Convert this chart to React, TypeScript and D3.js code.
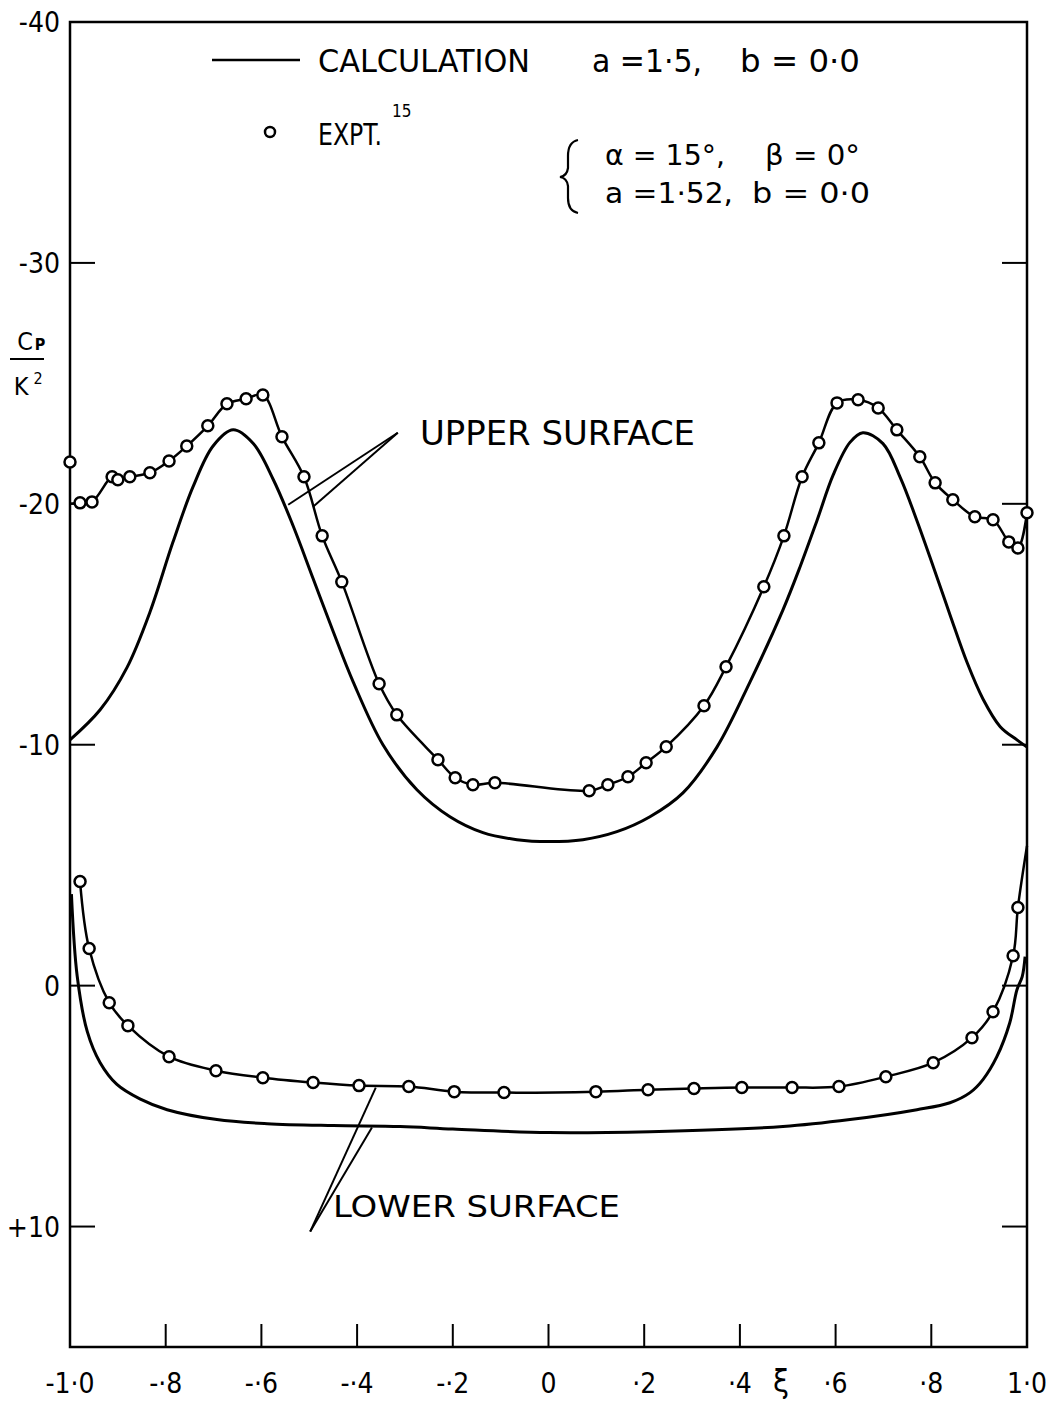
import React from "react";
import * as d3 from "d3";

// ---- data ----
const yTicks = [-40, -30, -20, -10, 0, 10];
const yTickLabels = ["-40", "-30", "-20", "-10", "0", "+10"];
const xTicks = [-1, -0.8, -0.6, -0.4, -0.2, 0, 0.2, 0.4, 0.6, 0.8, 1];
const xTickLabels = ["-1·0", "-·8", "-·6", "-·4", "-·2", "0", "·2", "·4", "·6", "·8", "1·0"];

// calculation, upper surface
const calcUpperXi = [-1.0, -0.937, -0.881, -0.833, -0.785, -0.743, -0.701, -0.659, -0.617, -0.575, -0.534, -0.492, -0.45, -0.408, -0.346, -0.275, -0.206, -0.137, -0.066, 0.0, 0.072, 0.143, 0.212, 0.281, 0.352, 0.421, 0.49, 0.526, 0.561, 0.595, 0.63, 0.657, 0.699, 0.735, 0.77, 0.804, 0.839, 0.875, 0.908, 0.944, 0.979, 1.0];
const calcUpperCp = [-10.2, -11.45, -13.2, -15.5, -18.4, -20.7, -22.4, -23.07, -22.5, -21.0, -19.1, -16.9, -14.7, -12.6, -10.0, -8.13, -7.01, -6.35, -6.06, -5.98, -6.06, -6.39, -7.01, -8.0, -9.9, -12.6, -15.6, -17.4, -19.3, -21.2, -22.55, -22.95, -22.5, -21.1, -19.3, -17.4, -15.4, -13.4, -11.9, -10.75, -10.2, -9.9];

// calculation, lower surface
const calcLowerXi = [-0.997, -0.985, -0.964, -0.937, -0.902, -0.854, -0.797, -0.693, -0.588, -0.45, -0.31, -0.2, 0.0, 0.212, 0.49, 0.63, 0.77, 0.839, 0.881, 0.908, 0.937, 0.964, 0.979, 0.99, 0.996];
const calcLowerCp = [-3.8, -0.4, 1.9, 3.2, 4.1, 4.7, 5.15, 5.56, 5.73, 5.81, 5.85, 5.95, 6.1, 6.06, 5.85, 5.56, 5.15, 4.86, 4.44, 3.9, 2.95, 1.54, 0.17, -0.37, -1.2];

// experiment, upper surface
const exptUpperXi = [-1.0, -0.979, -0.954, -0.912, -0.9, -0.875, -0.833, -0.793, -0.756, -0.712, -0.672, -0.632, -0.597, -0.557, -0.511, -0.473, -0.432, -0.354, -0.317, -0.231, -0.195, -0.158, -0.112, 0.085, 0.124, 0.166, 0.204, 0.246, 0.325, 0.371, 0.45, 0.492, 0.53, 0.565, 0.603, 0.647, 0.689, 0.728, 0.776, 0.808, 0.845, 0.891, 0.929, 0.962, 0.981, 1.0];
const exptUpperCp = [-21.74, -20.04, -20.08, -21.12, -21.0, -21.12, -21.29, -21.78, -22.4, -23.24, -24.15, -24.36, -24.52, -22.78, -21.12, -18.67, -16.76, -12.53, -11.24, -9.38, -8.63, -8.34, -8.42, -8.09, -8.34, -8.67, -9.25, -9.92, -11.62, -13.24, -16.56, -18.67, -21.12, -22.53, -24.19, -24.32, -23.98, -23.07, -21.95, -20.87, -20.17, -19.46, -19.34, -18.42, -18.17, -19.63];
// faired line through the upper experiment (starts on the axis at -20)
const exptUpperLineStart = { xi: -1.0, cp: -20.0 };

// experiment, lower surface
const exptLowerXi = [-0.979, -0.96, -0.918, -0.879, -0.793, -0.695, -0.597, -0.492, -0.396, -0.292, -0.197, -0.093, 0.099, 0.208, 0.304, 0.404, 0.509, 0.607, 0.705, 0.804, 0.885, 0.929, 0.971, 0.981];
const exptLowerCp = [-4.32, -1.54, 0.71, 1.66, 2.95, 3.53, 3.82, 4.02, 4.15, 4.19, 4.4, 4.44, 4.4, 4.32, 4.27, 4.23, 4.23, 4.19, 3.78, 3.2, 2.16, 1.08, -1.24, -3.24];
// faired line continues to the trailing edge
const exptLowerLineEnd = { xi: 1.0, cp: -5.8 };

// leader lines (data coordinates)
const upperLeader = [
  { from: [-0.315, -22.95], to: [-0.544, -19.96] },
  { from: [-0.315, -22.95], to: [-0.492, -19.88] },
];
const lowerLeader = [
  { from: [-0.498, 10.21], to: [-0.361, 4.23] },
  { from: [-0.498, 10.21], to: [-0.369, 5.89] },
];

const FONT = "'DejaVu Sans Condensed', 'Liberation Sans Narrow', 'Arial Narrow', sans-serif";

export default function App() {
  const W = 1056;
  const H = 1408;
  const L = 70, R = 1027, T = 22, B = 1347;
  const x = d3.scaleLinear().domain([-1, 1]).range([L, R]);
  const y = d3.scaleLinear().domain([-40, 15]).range([T, B]);

  const zip = (xs: number[], ys: number[]) => xs.map((v, i) => [v, ys[i]] as [number, number]);

  const cr = d3
    .line<[number, number]>()
    .x((d) => x(d[0]))
    .y((d) => y(d[1]))
    .curve(d3.curveCatmullRom.alpha(0.5));

  const calcUpper = zip(calcUpperXi, calcUpperCp);
  const calcLower = zip(calcLowerXi, calcLowerCp);
  const exptUpper = zip(exptUpperXi, exptUpperCp);
  const exptLower = zip(exptLowerXi, exptLowerCp);

  const exptUpperLine: [number, number][] = [
    [exptUpperLineStart.xi, exptUpperLineStart.cp],
    ...exptUpper.slice(1),
  ];
  const exptLowerLine: [number, number][] = [
    ...exptLower,
    [exptLowerLineEnd.xi, exptLowerLineEnd.cp],
  ];

  const tickLen = 25;

  return (
    <svg width={W} height={H} viewBox={`0 0 ${W} ${H}`} style={{ display: "block", background: "#fff", margin: "-8px" }}>
      <rect x={0} y={0} width={W} height={H} fill="#fff" />
      {/* frame */}
      <rect x={L} y={T} width={R - L} height={B - T} fill="none" stroke="#000" strokeWidth={2.5} />

      {/* y ticks and labels */}
      {yTicks.map((t, i) => (
        <g key={"y" + t}>
          {t !== -40 && (
            <>
              <line x1={L} x2={L + tickLen} y1={y(t)} y2={y(t)} stroke="#000" strokeWidth={2} />
              <line x1={R - tickLen} x2={R} y1={y(t)} y2={y(t)} stroke="#000" strokeWidth={2} />
            </>
          )}
          <text x={60} y={y(t) + 10} textAnchor="end" fontFamily={FONT} fontSize={28} fill="#000">
            {yTickLabels[i]}
          </text>
        </g>
      ))}

      {/* x ticks and labels */}
      {xTicks.map((t, i) => (
        <g key={"x" + t}>
          {i > 0 && i < xTicks.length - 1 && (
            <line x1={x(t)} x2={x(t)} y1={B} y2={B - 23} stroke="#000" strokeWidth={2} />
          )}
          <text x={x(t)} y={1393} textAnchor="middle" fontFamily={FONT} fontSize={28} fill="#000">
            {xTickLabels[i]}
          </text>
        </g>
      ))}
      <text x={781} y={1392} textAnchor="middle" fontFamily={FONT} fontSize={32} fill="#000">ξ</text>

      {/* y axis title */}
      <text x={25} y={350} textAnchor="middle" fontFamily={FONT} fontSize={25} fill="#000">C</text>
      <text x={40} y={350} textAnchor="middle" fontFamily={FONT} fontSize={16} fontWeight="bold" fill="#000">P</text>
      <line x1={10} x2={44} y1={359} y2={359} stroke="#000" strokeWidth={2} />
      <text x={21} y={395} textAnchor="middle" fontFamily={FONT} fontSize={25} fill="#000">K</text>
      <text x={38} y={384} textAnchor="middle" fontFamily={FONT} fontSize={16} fill="#000">2</text>

      {/* curves */}
      <path d={cr(calcUpper) || ""} fill="none" stroke="#000" strokeWidth={3} />
      <path d={cr(calcLower) || ""} fill="none" stroke="#000" strokeWidth={3} />
      <path d={cr(exptUpperLine) || ""} fill="none" stroke="#000" strokeWidth={2.5} />
      <path d={cr(exptLowerLine) || ""} fill="none" stroke="#000" strokeWidth={2.5} />

      {exptUpper.map((d, i) => (
        <circle key={"eu" + i} cx={x(d[0])} cy={y(d[1])} r={5.5} fill="#fff" stroke="#000" strokeWidth={2.5} />
      ))}
      {exptLower.map((d, i) => (
        <circle key={"el" + i} cx={x(d[0])} cy={y(d[1])} r={5.5} fill="#fff" stroke="#000" strokeWidth={2.5} />
      ))}

      {/* leaders */}
      {[...upperLeader, ...lowerLeader].map((l, i) => (
        <line key={"ld" + i} x1={x(l.from[0])} y1={y(l.from[1])} x2={x(l.to[0])} y2={y(l.to[1])} stroke="#000" strokeWidth={2} />
      ))}
      <text x={420} y={445} fontFamily={FONT} fontSize={33} textLength={275} lengthAdjust="spacingAndGlyphs" fill="#000">UPPER  SURFACE</text>
      <text x={333} y={1217} fontFamily={FONT} fontSize={30} textLength={287} lengthAdjust="spacingAndGlyphs" fill="#000">LOWER  SURFACE</text>

      {/* legend */}
      <line x1={212} x2={300} y1={60} y2={60} stroke="#000" strokeWidth={2.5} />
      <text x={318} y={72} fontFamily={FONT} fontSize={32} textLength={212} lengthAdjust="spacingAndGlyphs" fill="#000">CALCULATION</text>
      <text x={592} y={72} fontFamily={FONT} fontSize={32} textLength={110} lengthAdjust="spacingAndGlyphs" fill="#000">a =1·5,</text>
      <text x={740} y={72} fontFamily={FONT} fontSize={32} textLength={120} lengthAdjust="spacingAndGlyphs" fill="#000">b = 0·0</text>

      <circle cx={270} cy={132} r={5} fill="#fff" stroke="#000" strokeWidth={2.5} />
      <text x={318} y={145} fontFamily={FONT} fontSize={30} textLength={64} lengthAdjust="spacingAndGlyphs" fill="#000">EXPT.</text>
      <text x={392} y={117} fontFamily={FONT} fontSize={17} fill="#000">15</text>

      <path d="M 578 140 Q 568 142 568 156 L 568 168 Q 567 176 560 177 Q 567 178 568 186 L 568 198 Q 568 211 578 213" fill="none" stroke="#000" strokeWidth={2.2} />
      <text x={605} y={165} fontFamily={FONT} fontSize={28} textLength={120} lengthAdjust="spacingAndGlyphs" fill="#000">α = 15°,</text>
      <text x={765} y={165} fontFamily={FONT} fontSize={28} textLength={95} lengthAdjust="spacingAndGlyphs" fill="#000">β = 0°</text>
      <text x={605} y={203} fontFamily={FONT} fontSize={28} textLength={128} lengthAdjust="spacingAndGlyphs" fill="#000">a =1·52,</text>
      <text x={752} y={203} fontFamily={FONT} fontSize={28} textLength={118} lengthAdjust="spacingAndGlyphs" fill="#000">b = 0·0</text>
    </svg>
  );
}
